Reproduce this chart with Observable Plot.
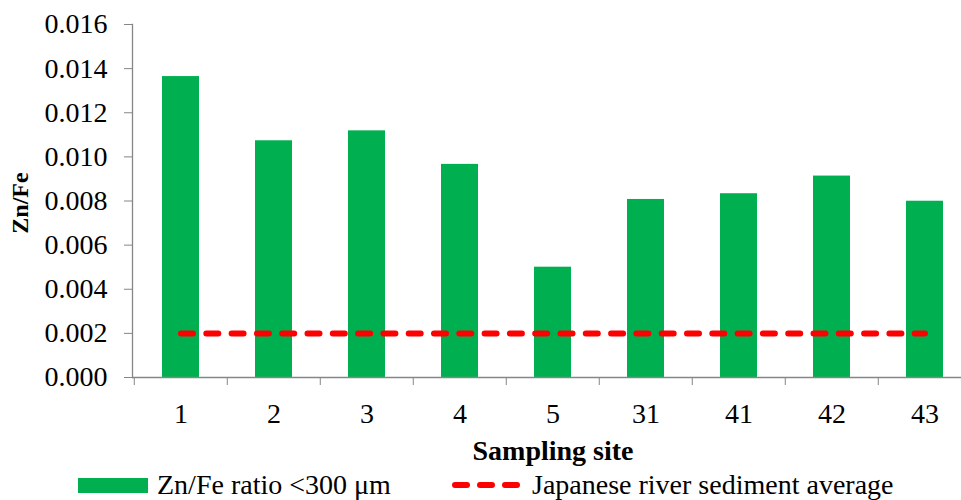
<!DOCTYPE html>
<html>
<head>
<meta charset="utf-8">
<script src="https://cdn.jsdelivr.net/npm/d3@7"></script>
<script src="https://cdn.jsdelivr.net/npm/@observablehq/plot@0.6"></script>
<style>
  html, body { margin: 0; padding: 0; background: #fff; overflow: hidden; }
  #chart { position: relative; width: 961px; height: 500px; font-family: "Liberation Serif", "Times New Roman", serif; }
  #legend { position: absolute; left: 0; top: 470px; width: 961px; height: 30px; }
  .item { position: absolute; top: 1px; display: flex; align-items: center; height: 28px; font-size: 28px; line-height: 28px; color: #000; white-space: nowrap; }
  .swatch { display: inline-block; width: 70px; height: 15px; background: #00b050; margin-right: 9px; }
  .dash { display: inline-block; width: 70px; height: 8px; margin-right: 10px; }
</style>
</head>
<body>
<div id="chart"><div id="legend"></div></div>
<script>
// ---- data ----
const sites = ["1", "2", "3", "4", "5", "31", "41", "42", "43"];
const znFeRatio = [0.01364, 0.01073, 0.01118, 0.00966, 0.00500, 0.00807, 0.00833, 0.00913, 0.00799];
const riverSedimentAverage = 0.002;
const yTicks = [0, 0.002, 0.004, 0.006, 0.008, 0.010, 0.012, 0.014, 0.016];
const seriesNames = ["Zn/Fe ratio <300 \u03bcm", "Japanese river sediment average"];
const xTitle = "Sampling site";
const yTitle = "Zn/Fe";

const table = sites.map((s, i) => ({site: s, value: znFeRatio[i], avg: riverSedimentAverage}));

const W = 961, H = 470;
const mL = 132, mR = -12, mT = 24, mB = H - 377;
const bw = (W - mR - mL) / sites.length;
const font = '"Liberation Serif", "Times New Roman", serif';
const axisGrey = "#868686";

const chart = Plot.plot({
  width: W,
  height: H,
  marginLeft: mL,
  marginRight: mR,
  marginTop: mT,
  marginBottom: mB,
  style: {fontFamily: font, fontSize: "28px", color: "#000", background: "transparent", overflow: "hidden"},
  x: {domain: sites, paddingInner: 0.6, paddingOuter: 0.3, align: 0.5},
  y: {domain: [0, 0.016]},
  marks: [
    Plot.barY(table, {x: "site", y: "value", fill: "#00b050"}),
    Plot.line(table, {x: "site", y: "avg", stroke: "#ff0000", strokeWidth: 6, strokeDasharray: "12,13.3", strokeLinecap: "round"}),
    Plot.ruleY([0], {stroke: axisGrey, strokeWidth: 1.3}),
    Plot.frame({anchor: "left", stroke: axisGrey, strokeWidth: 1.3}),
    Plot.axisY({ticks: yTicks, tickFormat: d3.format(".3f"), tickSize: 8, tickPadding: 17, stroke: axisGrey, label: null, fontSize: 28}),
    Plot.axisX({tickSize: 8, tickFormat: () => "", dx: -bw / 2, stroke: axisGrey, label: null}),
    Plot.axisX({tickSize: 0, tickPadding: 26, label: null, fontSize: 28}),
    Plot.text([xTitle], {text: d => d, frameAnchor: "bottom", dy: 74, lineAnchor: "middle", fontWeight: "bold", fontSize: 28}),
    Plot.text([yTitle], {text: d => d, frameAnchor: "left", textAnchor: "middle", dx: -112, dy: 2, rotate: -90, lineAnchor: "middle", fontWeight: "bold", fontSize: 24})
  ]
});
chart.style.position = "absolute";
chart.style.left = "0px";
chart.style.top = "0px";
document.getElementById("chart").prepend(chart);

// ---- legend ----
const legend = document.getElementById("legend");
const it1 = document.createElement("div");
it1.className = "item";
it1.style.left = "78px";
it1.innerHTML = '<span class="swatch"></span>';
it1.appendChild(document.createTextNode(seriesNames[0]));
legend.appendChild(it1);

const it2 = document.createElement("div");
it2.className = "item";
it2.style.left = "452px";
it2.innerHTML = '<svg class="dash" width="70" height="8"><line x1="3" x2="67" y1="4" y2="4" stroke="#ff0000" stroke-width="6" stroke-linecap="round" stroke-dasharray="12,13"/></svg>';
it2.appendChild(document.createTextNode(seriesNames[1]));
legend.appendChild(it2);
</script>
</body>
</html>
